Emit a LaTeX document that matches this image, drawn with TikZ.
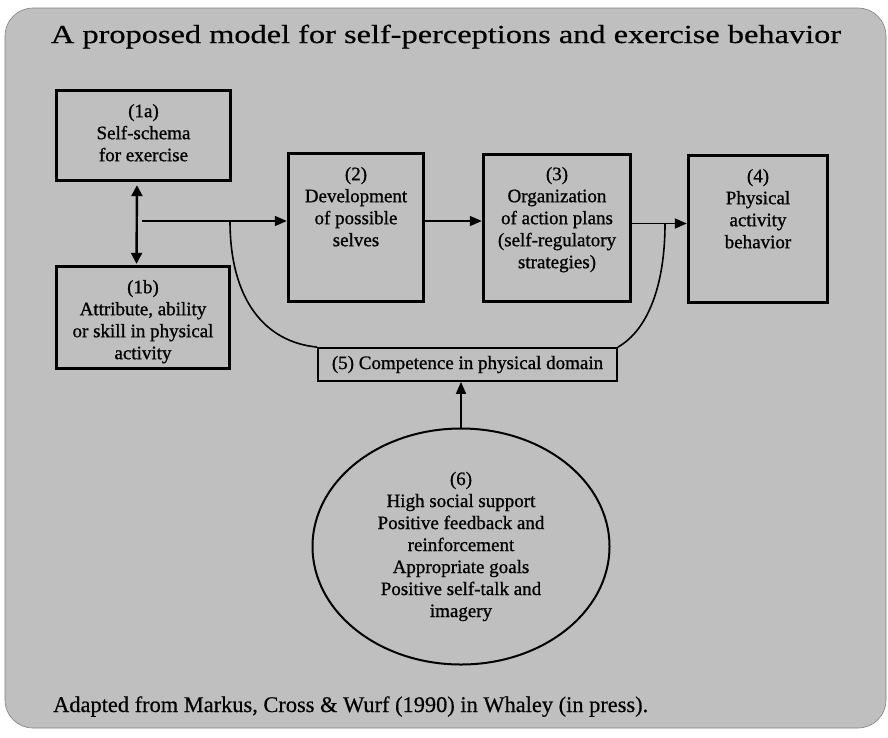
\documentclass[tikz,border=0pt]{standalone}
\usepackage{fontspec}
\setmainfont{Liberation Serif}
\newfontfamily\heavyserif{Liberation Serif}[FakeBold=0.9]
\newfontfamily\titleserif{Liberation Serif}[FakeBold=0.5]
\usetikzlibrary{arrows.meta,shapes.geometric}
\begin{document}
\begin{tikzpicture}[x=1pt,y=-1pt,
  bigbox/.style={draw, line width=3.4pt, inner sep=0pt},
  smallbox/.style={draw, line width=1.8pt, inner sep=0pt, font=\heavyserif\fontsize{19}{22}\selectfont},
  boxtext/.style={font=\heavyserif\fontsize{19}{22}\selectfont, align=center, inner sep=0pt, anchor=north},
  conn/.style={line width=1.6pt},
  arr/.style={conn, -{Triangle[length=12pt,width=10pt]}},
  dblarr/.style={line width=2.4pt, {Triangle[length=11pt,width=11pt]}-{Triangle[length=11pt,width=11pt]}}
]
\useasboundingbox (0,0) rectangle (888,737);
% background frame
\draw[fill=black!25, draw=black!50, line width=0.6pt, rounded corners=28pt] (5,8) rectangle (886,728);

% title
\node[font=\titleserif\fontsize{26}{30}\selectfont, anchor=base, inner sep=0pt] (title) at (446,43)
  {\scalebox{1.245}[1]{A proposed model for self-perceptions and exercise behavior}};

% boxes
\node[bigbox, minimum width=174pt, minimum height=90pt] (b1a) at (143.5,135.5) {};
\node[bigbox, minimum width=173pt, minimum height=102pt] (b1b) at (143,317.5) {};
\node[bigbox, minimum width=135pt, minimum height=148pt] (b2) at (356,227.5) {};
\node[bigbox, minimum width=147pt, minimum height=147pt] (b3) at (557,228) {};
\node[bigbox, minimum width=139pt, minimum height=147pt] (b4) at (758,229) {};
\node[smallbox, minimum width=299pt, minimum height=33pt] (b5) at (467.5,364.5) {(5) Competence in physical domain};

% box texts
\node[boxtext] (t1a) at ([yshift=-15pt]b1a.north) {(1a)\\Self-schema\\for exercise};
\node[boxtext] (t1b) at ([yshift=-15pt]b1b.north) {(1b)\\Attribute, ability\\or skill in physical\\activity};
\node[boxtext] (t2) at ([yshift=-15pt]b2.north) {(2)\\Development\\of possible\\selves};
\node[boxtext] (t3) at ([yshift=-14pt]b3.north) {(3)\\Organization\\of action plans\\(self-regulatory\\strategies)};
\node[boxtext] (t4) at ([yshift=-15pt]b4.north) {(4)\\Physical\\activity\\behavior};

% ellipse
\node[ellipse, draw, line width=2pt, inner sep=0pt, minimum width=297pt, minimum height=236pt,
      font=\heavyserif\fontsize{19}{22}\selectfont, align=center] (e6) at (461,546.5)
  {(6)\\High social support\\Positive feedback and\\reinforcement\\Appropriate goals\\Positive self-talk and\\imagery};

% footer
\node[font=\titleserif\fontsize{22.4}{26}\selectfont, anchor=base west, inner sep=0pt] (foot) at (53,712)
  {Adapted from Markus, Cross \& Wurf (1990) in Whaley (in press).};

% connectors
\coordinate (j0) at (142,221);
\coordinate (j1) at (632,223.5);
\coordinate (c1) at (230,221);
\coordinate (c2) at (665,223.5);
\draw[dblarr, shorten <=3pt, shorten >=1pt] ([xshift=-6.5pt]b1a.south) -- ([xshift=-6.5pt]b1b.north);
\draw[arr] (j0) -- (j0 -| b2.west);
\draw[arr] (b2.east |- j0) -- (b3.west |- j0);
\draw[arr] (b3.east |- j1) -- (b4.west |- j1);
\draw[conn] (c1) .. controls (230,300) and (265,342) .. (b5.north west);
\draw[conn] (b5.north east) .. controls (648,330) and (665,285) .. (c2);
\draw[arr] (e6.north) -- (e6.north |- b5.south);
\end{tikzpicture}
\end{document}
